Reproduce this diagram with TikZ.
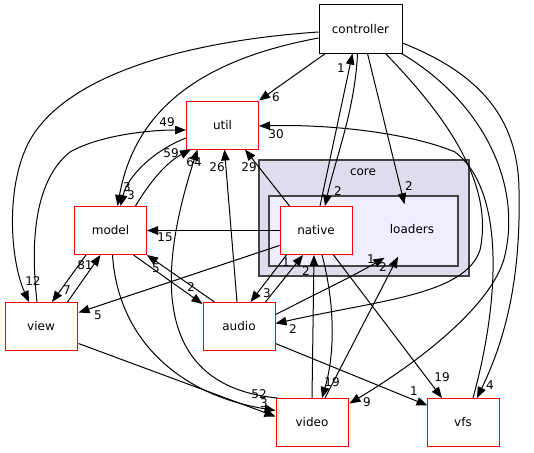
\documentclass[tikz,border=0pt]{standalone}
\usepackage{fontspec}
\setmainfont{DejaVu Sans}
\usetikzlibrary{calc, arrows.meta}
\definecolor{clusterbg}{HTML}{DDDDEE}
\definecolor{innerbg}{HTML}{EEEEFF}
\definecolor{clusterline}{HTML}{444444}
\newcommand{\dxfont}{\fontsize{12}{14}\selectfont}

\begin{document}
\begin{tikzpicture}[x=1pt, y=-1pt,
	dirbox/.style={draw=red, fill=white, line width=1pt, minimum width=72pt, minimum height=48pt, inner sep=0pt, font=\dxfont},
	topbox/.style={dirbox, draw=black},
	clusterbox/.style={draw=clusterline, fill=clusterbg, line width=1.5pt, inner sep=0pt},
	innerbox/.style={draw=clusterline, fill=innerbg, line width=1.5pt, inner sep=0pt},
	dep/.style={-{Triangle[length=11pt,width=8.5pt]}, line width=1pt},
	num/.style={font=\dxfont, inner sep=0pt}]
	\useasboundingbox (0,0) rectangle (534,452);

	\node[clusterbox, minimum width=210pt, minimum height=116pt] (core) at (364,218) {};
	\node[num] (coretext) at (363,172) {core};
	\node[innerbox, minimum width=189pt, minimum height=70pt] (loaders) at (363.5,231) {};
	\node[num] (loaderstext) at (412,229) {loaders};

	\node[topbox, minimum width=83pt] (controller) at (360.5,29) {controller};
	\node[dirbox] (util) at (222.5,125) {util};
	\node[dirbox] (native) at (316,230.5) {native};
	\node[dirbox] (model) at (110.5,230.5) {model};
	\node[dirbox] (view) at (41,326.5) {view};
	\node[dirbox] (audio) at (239,326.5) {audio};
	\node[dirbox] (video) at (312,422.5) {video};
	\node[dirbox] (vfs) at (463,422.5) {vfs};

	\draw[dep] ($(controller.south)+(-35,0)$) -- (util.north east)
		node[num] (l-ctl-util) at (276,97) {6};
	\draw[dep] ($(controller.west)+(0,3)$) .. controls (200,40) and (70,70) .. (30,140)
		.. controls (5,185) and (10,260) .. ($(view.north)+(-12,0)$)
		node[num] (l-ctl-view) at (33,281) {12};
	\draw[dep] ($(controller.west)+(0,9)$) .. controls (200,60) and (135,110) .. ($(model.north)+(7,0)$)
		node[num] (l-ctl-model) at (127,187) {3};
	\draw[dep] ($(util.west)+(0,13)$) .. controls (155,150) and (128,175) .. ($(model.north)+(10,0)$)
		node[num] (l-util-model) at (131,195) {3};
	\draw[dep] ($(model.north)+(25,0)$) .. controls (148,185) and (165,163) .. ($(util.south west)+(5,0)$)
		node[num] (l-model-util) at (171,153) {59};
	\draw[dep] ($(view.north)+(-4,0)$) .. controls (30,240) and (35,180) .. (70,152)
		.. controls (100,135) and (150,130) .. ($(util.west)+(0,5)$)
		node[num] (l-view-util) at (167,122) {49};
	\draw[dep] ($(video.north west)+(2,0)$) .. controls (140,385) and (165,250) .. ($(util.south)+(-25,0)$)
		node[num] (l-video-util) at (194,162) {64};
	\draw[dep] ($(audio.north)+(-2,0)$) -- ($(util.south)+(2,0)$)
		node[num] (l-audio-util) at (217,167) {26};
	\draw[dep] ($(native.north west)+(10,0)$) -- ($(util.south east)+(-14,0)$)
		node[num] (l-native-util) at (249,167) {29};
	\draw[dep] ($(vfs.north)+(10,0)$) .. controls (500,300) and (505,190) .. (455,152)
		.. controls (410,133) and (330,124) .. ($(util.east)+(0,1)$)
		node[num] (l-vfs-util) at (276,134) {30};

	\draw[dep] ($(controller.south)+(-3,0)$) .. controls (355,110) and (335,160) .. ($(native.north)+(9,0)$)
		node[num] (l-ctl-native) at (338,191) {2};
	\draw[dep] ($(native.north)+(4,0)$) -- ($(controller.south)+(-8,0)$)
		node[num] (l-native-ctl) at (341,68) {1};
	\draw[dep] ($(controller.south)+(7,0)$) -- ($(loaders.north)+(41,9)$)
		node[num] (l-ctl-loaders) at (409,186) {2};
	\draw[dep] ($(controller.south east)+(-17,0)$) .. controls (440,110) and (495,180) .. (480,250)
		.. controls (465,295) and (380,300) .. ($(audio.east)+(0,-3)$)
		node[num] (l-ctl-audio) at (293,329) {2};
	\draw[dep] ($(controller.south east)+(-1,0)$) .. controls (480,100) and (522,180) .. (505,255)
		.. controls (495,300) and (430,355) .. ($(video.east)+(1,-19)$)
		node[num] (l-ctl-video) at (367,402) {9};
	\draw[dep] ($(controller.east)+(0,14)$) .. controls (470,70) and (518,110) .. (519,190)
		.. controls (521,280) and (505,340) .. ($(vfs.north)+(14,0)$)
		node[num] (l-ctl-vfs) at (490,385) {4};

	\draw[dep] (native.west) -- (model.east)
		node[num] (l-native-model) at (165,237) {15};
	\draw[dep] ($(native.west)+(0,15)$) -- ($(view.east)+(1,-14)$)
		node[num] (l-native-view) at (98,315) {5};
	\draw[dep] ($(model.south west)+(12,0)$) -- ($(view.north)+(11,0)$)
		node[num] (l-model-view) at (67,290) {7};
	\draw[dep] ($(view.north east)+(-10,0)$) -- ($(model.south)+(-10,0)$)
		node[num] (l-view-model) at (85,265) {81};
	\draw[dep] ($(model.south)+(23,0)$) -- ($(audio.north west)+(0,2)$)
		node[num] (l-model-audio) at (191,287) {2};
	\draw[dep] ($(audio.north west)+(12,0)$) -- (model.south east)
		node[num] (l-audio-model) at (156,268) {5};
	\draw[dep] ($(model.south)+(2,0)$) .. controls (118,340) and (180,395) .. ($(video.west)+(0,-12)$)
		node[num] (l-model-video) at (259,394) {52};
	\draw[dep] ($(view.east)+(1,17)$) -- ($(video.west)+(0,-6)$)
		node[num] (l-view-video) at (264,403) {3};

	\draw[dep] ($(native.south west)+(7,0)$) -- ($(audio.north east)+(-25,0)$)
		node[num] (l-native-audio) at (267,293) {3};
	\draw[dep] ($(audio.north east)+(-10,0)$) -- ($(native.south)+(-13,0)$)
		node[num] (l-audio-native) at (286,262) {1};
	\draw[dep] (video.north) -- ($(native.south)+(-2,0)$)
		node[num] (l-video-native) at (306,271) {2};
	\draw[dep] ($(native.south)+(6,0)$) .. controls (334,300) and (336,350) .. ($(video.north)+(10,0)$)
		node[num] (l-native-video) at (332,382) {19};
	\draw[dep] ($(native.south east)+(-19,0)$) -- ($(vfs.north)+(-21,0)$)
		node[num] (l-native-vfs) at (442,377) {19};
	\draw[dep] ($(audio.east)+(0,17)$) -- ($(vfs.west)+(1,-17)$)
		node[num] (l-audio-vfs) at (414,391) {1};
	\draw[dep] ($(audio.east)+(0,-12)$) .. controls (320,292) and (355,275) .. ($(loaders.south)+(21,-9)$)
		node[num] (l-audio-loaders) at (371,259) {1};
	\draw[dep] ($(video.north)+(13,0)$) -- ($(loaders.south)+(34.5,-10)$)
		node[num] (l-video-loaders) at (383,267) {2};
\end{tikzpicture}
\end{document}
